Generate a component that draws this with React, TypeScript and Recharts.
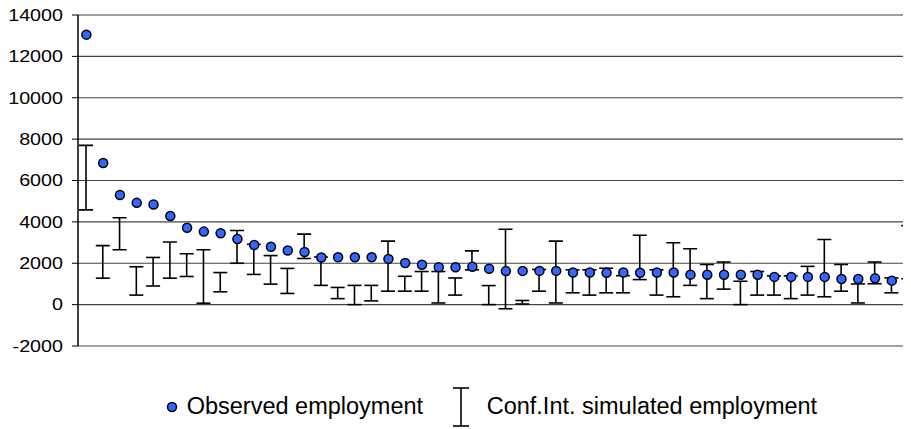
import { ComposedChart, Bar, Line, XAxis, YAxis, CartesianGrid } from "recharts";

// observed employment per region, sorted descending
const observed = [
  13050, 6850, 5300, 4920, 4840, 4280, 3720, 3530, 3450, 3170,
  2880, 2800, 2620, 2540, 2280, 2290, 2290, 2290, 2210, 2010,
  1930, 1810, 1810, 1830, 1730, 1620, 1630, 1630, 1630, 1550,
  1550, 1540, 1550, 1540, 1550, 1550, 1450, 1440, 1440, 1440,
  1440, 1340, 1340, 1340, 1340, 1240, 1240, 1270, 1160, 1160,
];

// confidence interval of simulated employment: lower / upper bounds
const ciLow = [
  4580, 1280, 2650, 460, 900, 1280, 1360, 70, 620, 2000,
  1460, 990, 540, 2230, 930, 290, 0, 180, 650, 650,
  650, 80, 460, 1680, 0, -200, 30, 650, 80, 570,
  460, 570, 570, 1210, 460, 380, 930, 290, 750, 0,
  460, 460, 290, 460, 380, 650, 80, 1010, 570, 1250,
];
const ciHigh = [
  7700, 2850, 4200, 1830, 2280, 3030, 2460, 2650, 1550, 3580,
  2920, 2370, 1750, 3410, 2300, 830, 930, 930, 3070, 1370,
  1600, 1600, 1290, 2600, 920, 3640, 200, 1700, 3070, 1680,
  1680, 1760, 1400, 3350, 1680, 2990, 2700, 1940, 2060, 1130,
  1600, 1390, 1390, 1850, 3150, 1940, 1000, 2060, 1290, 3820,
];

const yTicks = [-2000, 0, 2000, 4000, 6000, 8000, 10000, 12000, 14000];

const data = observed.map((v, i) => ({
  idx: i + 1,
  observed: v,
  ci: [ciLow[i], ciHigh[i]],
}));

const FONT = "'Liberation Sans', Arial, Helvetica, sans-serif";
const DOT_BLUE = "#3366ff";

function YTick({ x, y, payload }: any) {
  return (
    <g transform={`translate(${x},${y})`}>
      <text
        x={0}
        y={0}
        dy={5.8}
        textAnchor="end"
        transform="scale(1.21,1)"
        fontSize={16.3}
        fontFamily={FONT}
        fill="#000"
      >
        {payload.value}
      </text>
    </g>
  );
}

// I-beam drawn over the range bar's box
function IntervalShape({ x, y, width, height }: any) {
  if (x == null || y == null) return null;
  const cx = x + width / 2;
  const half = 7;
  return (
    <g stroke="#000" strokeWidth={1.6} fill="none">
      <line x1={cx} y1={y} x2={cx} y2={y + height} />
      <line x1={cx - half} y1={y} x2={cx + half} y2={y} />
      <line x1={cx - half} y1={y + height} x2={cx + half} y2={y + height} />
    </g>
  );
}

function LegendRow() {
  return (
    <svg
      width={903}
      height={60}
      style={{ position: "absolute", left: 0, top: 361 }}
    >
      <circle cx={164} cy={38} r={4.5} fill={DOT_BLUE} stroke="#000" strokeWidth={1.5} />
      <text x={178.7} y={45} fontSize={23.5} fontFamily={FONT} fill="#000">
        Observed employment
      </text>
      <g stroke="#000" strokeWidth={1.6}>
        <line x1={453} y1={19} x2={453} y2={57} />
        <line x1={445} y1={19} x2={461} y2={19} />
        <line x1={445} y1={57} x2={461} y2={57} />
      </g>
      <text x={478.7} y={45} fontSize={23.5} fontFamily={FONT} fill="#000">
        Conf.Int. simulated employment
      </text>
    </svg>
  );
}

export default function App() {
  return (
    <div style={{ position: "relative", width: 903, height: 421, overflow: "hidden" }}>
      <style>{".recharts-surface { overflow: visible; }"}</style>
      <ComposedChart
        width={920}
        height={421}
        data={data}
        margin={{ top: 7, right: 11, bottom: 83, left: 0 }}
        barCategoryGap={0}
      >
        <CartesianGrid vertical={false} stroke="#444" strokeWidth={1.2} />
        <XAxis
          dataKey="idx"
          tick={false}
          tickLine={false}
          height={0}
          axisLine={{ stroke: "#808080", strokeWidth: 1.5 }}
        />
        <YAxis
          width={70}
          domain={[-2000, 14000]}
          ticks={yTicks}
          interval={0}
          tickSize={6}
          tickMargin={9}
          tick={<YTick />}
          axisLine={{ stroke: "#000", strokeWidth: 1.5 }}
          tickLine={{ stroke: "#000" }}
          allowDataOverflow
        />
        <Bar
          dataKey="ci"
          barSize={14}
          shape={<IntervalShape />}
          isAnimationActive={false}
        />
        <Line
          dataKey="observed"
          stroke="none"
          dot={{ r: 4.5, fill: DOT_BLUE, stroke: "#000", strokeWidth: 1.5 }}
          activeDot={false}
          isAnimationActive={false}
        />
      </ComposedChart>
      <LegendRow />
    </div>
  );
}
